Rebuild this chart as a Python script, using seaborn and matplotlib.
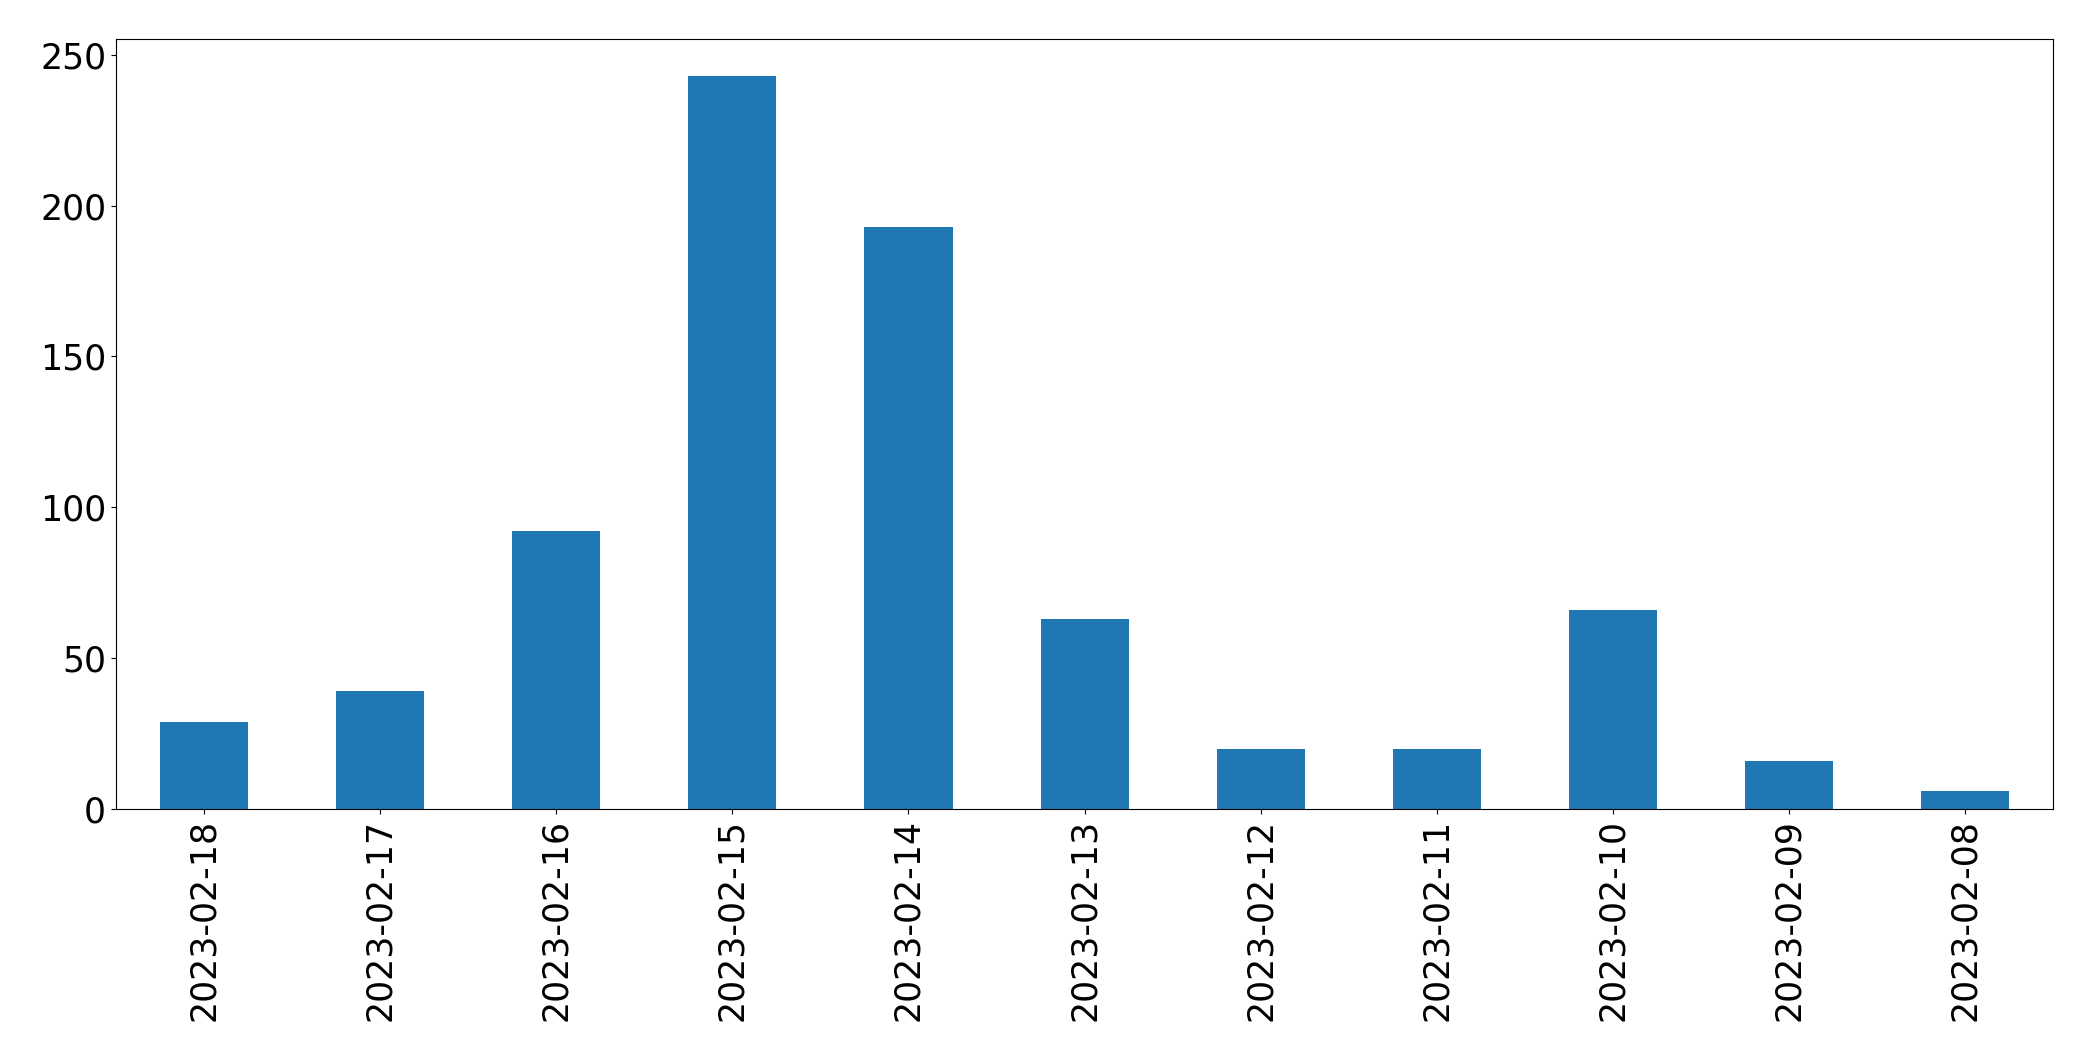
import pandas as pd
import matplotlib
matplotlib.use('Agg')
import matplotlib.pyplot as plt
import seaborn as sns

# Daily counts, newest first (as in the source chart)
dates = ['2023-02-18', '2023-02-17', '2023-02-16', '2023-02-15', '2023-02-14',
         '2023-02-13', '2023-02-12', '2023-02-11', '2023-02-10', '2023-02-09',
         '2023-02-08']
counts = [29, 39, 92, 243, 193, 63, 20, 20, 66, 16, 6]

df = pd.DataFrame({'date': dates, 'count': counts})

fig, ax = plt.subplots(figsize=(20.93, 10.61), dpi=100)
sns.barplot(data=df, x='date', y='count', order=dates, color='#1f77b4',
            saturation=1, width=0.5, linewidth=0, ax=ax)

ax.set_xlabel('')
ax.set_ylabel('')
ax.tick_params(axis='both', labelsize=25)
ax.tick_params(axis='x', labelrotation=90)
ax.set_xlim(-0.5, len(dates) - 0.5)

plt.subplots_adjust(left=0.0554, right=0.981, top=0.963, bottom=0.2375)
plt.savefig('out.png', dpi=100)
plt.close()
